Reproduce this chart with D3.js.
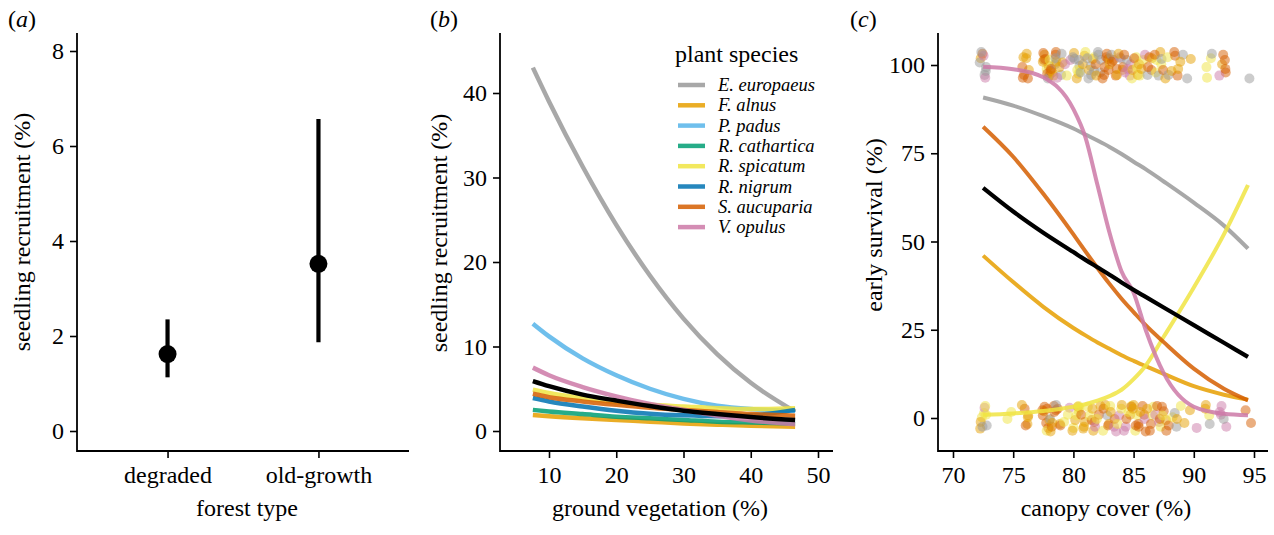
<!DOCTYPE html>
<html>
<head>
<meta charset="utf-8">
<script src="https://cdn.jsdelivr.net/npm/d3@7"></script>
<style>
  body { margin: 0; background: #fff; }
  svg text { font-family: "Liberation Serif", "DejaVu Serif", serif; fill: #000; }
</style>
</head>
<body>
<svg id="fig" width="1274" height="535"></svg>
<script>
// ---- (a) recruitment by forest type ----
const forestTypes = ["degraded", "old-growth"];
const recruitMean = [1.62, 3.52];
const recruitLow = [1.13, 1.87];
const recruitHigh = [2.35, 6.57];
const ticksA = [0, 2, 4, 6, 8];

// ---- (b) recruitment vs ground vegetation ----
const speciesNames = ["E. europaeus", "F. alnus", "P. padus", "R. cathartica",
  "R. spicatum", "R. nigrum", "S. aucuparia", "V. opulus"];
const speciesColors = ["#999999", "#E69F00", "#56B4E9", "#009E73",
  "#F0E442", "#0072B2", "#D55E00", "#CC79A7"];
const groundVeg = [7.6, 10, 15, 20, 25, 30, 35, 40, 46.6];
const recEuropaeus = [43, 39, 31.3, 24.4, 18.4, 13.3, 9.1, 5.7, 2.3];
const recAlnus = [1.9, 1.75, 1.5, 1.3, 1.1, 0.9, 0.75, 0.62, 0.5];
const recPadus = [12.7, 11.2, 8.6, 6.6, 5.0, 3.8, 3.0, 2.6, 2.4];
const recCathartica = [2.5, 2.3, 2.0, 1.7, 1.5, 1.3, 1.1, 1.0, 0.9];
const recSpicatum = [4.9, 4.5, 3.9, 3.4, 3.1, 2.9, 2.7, 2.6, 2.7];
const recNigrum = [3.9, 3.5, 2.9, 2.4, 2.05, 1.85, 1.75, 1.85, 2.5];
const recAucuparia = [4.4, 4.0, 3.5, 3.1, 2.75, 2.5, 2.25, 2.0, 1.8];
const recOpulus = [7.5, 6.6, 5.2, 4.1, 3.2, 2.5, 1.8, 1.25, 0.8];
const recAll = [5.9, 5.3, 4.3, 3.6, 2.95, 2.4, 2.0, 1.65, 1.3];
const ticksBx = [10, 20, 30, 40, 50];
const ticksBy = [0, 10, 20, 30, 40];

// ---- (c) early survival vs canopy cover ----
const canopy = [72.5, 75, 77.5, 80, 81, 82, 83, 84, 85, 86, 87.5, 90, 92.5, 94.5];
const survEuropaeus = [90.8, 88.5, 85.5, 82, 80.3, 78.6, 76.8, 74.8, 72.6, 70.5, 67, 61, 54.5, 48];
const survAlnus = [46, 38.5, 31.5, 25.5, 23.4, 21.4, 19.6, 17.8, 16.2, 14.7, 12.5, 9, 6.6, 5.2];
const survSpicatum = [0.9, 1.3, 2, 3.2, 3.9, 4.9, 6.2, 8, 11, 14.8, 23, 37, 52, 66];
const survAucuparia = [82.5, 74, 63.5, 52, 47.2, 42.5, 38, 33.8, 30, 26.3, 21.5, 14, 8.3, 5];
const survOpulus = [99.5, 98.8, 96.5, 87.5, 79.5, 66, 52.5, 41.5, 35.5, 25, 12.7, 3.2, 1.2, 0.8];
const survAll = [65.2, 58.5, 52.5, 47, 44.8, 42.7, 40.6, 38.4, 36.3, 34.3, 31.3, 26.3, 21.3, 17.3];
const ticksCx = [70, 75, 80, 85, 90, 95];
const ticksCy = [0, 25, 50, 75, 100];

// observed seedlings: plot canopy, species codes of survivors (top) and dead (bottom)
// g E. europaeus, f F. alnus, y R. spicatum, s S. aucuparia, v V. opulus
const plotCanopy = [72.5, 74.8, 76.0, 77.7, 78.3, 78.8, 79.5, 80.2, 80.7, 81.4, 82.0, 82.7,
  83.3, 83.9, 84.5, 85.1, 85.7, 86.4, 87.0, 87.6, 88.2, 88.8, 89.5, 90.2, 91.2, 92.4, 94.5];
const plotAlive = ["gfgsvgvgg", "", "sffsfsfs", "ssfyfssfsg", "ssfgyfssf", "ggfgvf", "vvy",
  "yfggfgy", "fyygfg", "gfgyfgg", "gggsgfg", "sssssfss", "fssgss", "vffgsf", "vvgvsv", "yyffsy",
  "fyyvf", "ssgfs", "fyyygs", "gfysg", "sfs", "sgff", "fg", "", "yygy", "sfsvss", "g"];
const plotDead = ["gyyfvfygy", "yy", "fsffsf", "sssffsyss", "ssgsfsf", "sfgs", "vyy", "yyfffy",
  "fyfsfy", "syfyf", "ssvfy", "ygsffs", "vysfv", "vvyyf", "fvysy", "syyfsfs", "sssvfs", "ysyfs",
  "vvyss", "sfssy", "syg", "gyf", "ff", "v", "yfgf", "vvvgv", "ss"];
const jitterY = [-2.8, 1.9, -0.6, 3.2, -3.6, 0.7, 2.6, -1.7, 3.7, -2.1, 0.2, 1.4, -3.0, 2.9,
  -1.1, 0.9, -2.5, 3.4, -0.3, 1.7, -3.8, 2.2, -1.4];
const jitterX = [0.12, -0.2, 0.25, -0.05, 0.18, -0.28, 0.04, 0.22, -0.15, 0.3, -0.1, 0.08, -0.24];
const codeColor = { g: "#999999", f: "#E69F00", y: "#F0E442", s: "#D55E00", v: "#CC79A7" };

const AXIS_Y = 451;
const TOP_Y = 33;
const FONT = 24;
const svg = d3.select("#fig");

// panel letter like (a) with the letter in italics
function panelLabel(x, letter) {
  const t = svg.append("text").attr("x", x).attr("y", 27).attr("font-size", FONT);
  t.append("tspan").text("(");
  t.append("tspan").attr("font-style", "italic").text(letter);
  t.append("tspan").text(")");
}

// classic axes: left + bottom lines, outward ticks
function drawAxes(xAxis, yScale, yTicks, xLeft, xRight) {
  const gx = svg.append("g")
    .attr("transform", `translate(0, ${AXIS_Y})`)
    .call(xAxis.tickSize(7).tickPadding(8).tickSizeOuter(0));
  const gy = svg.append("g")
    .attr("transform", `translate(${xLeft}, 0)`)
    .call(d3.axisLeft(yScale).tickValues(yTicks).tickSize(7).tickPadding(6).tickSizeOuter(0));
  [gx, gy].forEach(g => {
    g.attr("font-size", FONT).attr("font-family", null);
    g.select(".domain").remove();
    g.selectAll(".tick line").attr("stroke", "#000").attr("stroke-width", 1.6);
  });

  svg.append("line")
    .attr("x1", xLeft).attr("x2", xRight).attr("y1", AXIS_Y).attr("y2", AXIS_Y)
    .attr("stroke", "#000").attr("stroke-width", 1.8);
  svg.append("line")
    .attr("x1", xLeft).attr("x2", xLeft).attr("y1", TOP_Y).attr("y2", AXIS_Y + 0.9)
    .attr("stroke", "#000").attr("stroke-width", 1.8);
}

function xTitle(x, label) {
  svg.append("text").attr("x", x).attr("y", 516)
    .attr("text-anchor", "middle").attr("font-size", FONT).text(label);
}

function yTitle(x, y, label) {
  svg.append("text")
    .attr("transform", `translate(${x}, ${y}) rotate(-90)`)
    .attr("text-anchor", "middle").attr("font-size", FONT).text(label);
}

// ================= (a) =================
const xA = d3.scalePoint().domain(forestTypes).range([77, 409]).padding(0.6);
const yA = d3.scaleLinear().domain([0, 8]).range([431, 51]);
drawAxes(d3.axisBottom(xA), yA, ticksA, 77, 409);
panelLabel(8, "a");
xTitle(247, "forest type");
yTitle(30, 232, "seedling recruitment (%)");

svg.append("g").selectAll("line")
  .data(forestTypes)
  .join("line")
    .attr("x1", d => xA(d)).attr("x2", d => xA(d))
    .attr("y1", (d, i) => yA(recruitLow[i]))
    .attr("y2", (d, i) => yA(recruitHigh[i]))
    .attr("stroke", "#000").attr("stroke-width", 4.2);
svg.append("g").selectAll("circle")
  .data(forestTypes)
  .join("circle")
    .attr("cx", d => xA(d))
    .attr("cy", (d, i) => yA(recruitMean[i]))
    .attr("r", 9).attr("fill", "#000");

// ================= (b) =================
const xB = d3.scaleLinear().domain([10, 50]).range([549, 818]);
const yB = d3.scaleLinear().domain([0, 40]).range([431, 93]);
drawAxes(d3.axisBottom(xB).tickValues(ticksBx), yB, ticksBy, 500, 833);
panelLabel(430, "b");
xTitle(660, "ground vegetation (%)");
yTitle(447, 233, "seedling recruitment (%)");

const recSeries = [recEuropaeus, recAlnus, recPadus, recCathartica,
  recSpicatum, recNigrum, recAucuparia, recOpulus];
const lineB = d3.line()
  .x((d, i) => xB(groundVeg[i]))
  .y(d => yB(d))
  .curve(d3.curveMonotoneX);

svg.append("g").selectAll("path")
  .data(recSeries)
  .join("path")
    .attr("d", lineB)
    .attr("fill", "none")
    .attr("stroke", (d, i) => speciesColors[i])
    .attr("stroke-opacity", 0.85)
    .attr("stroke-width", 4.5);
svg.append("path")
  .attr("d", lineB(recAll))
  .attr("fill", "none").attr("stroke", "#000").attr("stroke-width", 4.5);

// legend
svg.append("text").attr("x", 675).attr("y", 62).attr("font-size", FONT).text("plant species");
const legend = svg.append("g").selectAll("g")
  .data(speciesNames)
  .join("g")
    .attr("transform", (d, i) => `translate(0, ${85 + i * 20.3})`);
legend.append("line")
  .attr("x1", 678).attr("x2", 705)
  .attr("stroke", (d, i) => speciesColors[i])
  .attr("stroke-opacity", 0.85)
  .attr("stroke-width", 4.5);
legend.append("text")
  .attr("x", 718).attr("y", 6)
  .attr("font-size", 18.5).attr("font-style", "italic")
  .text(d => d);

// ================= (c) =================
const xC = d3.scaleLinear().domain([70, 95]).range([953, 1254]);
const yC = d3.scaleLinear().domain([0, 100]).range([418, 65]);
drawAxes(d3.axisBottom(xC).tickValues(ticksCx), yC, ticksCy, 938, 1268);
panelLabel(850, "c");
xTitle(1106, "canopy cover (%)");
yTitle(882, 225, "early survival (%)");

// seedlings, jittered
const seedlings = [];
plotCanopy.forEach((cc, j) => {
  [[plotAlive[j], 100], [plotDead[j], 0]].forEach(([codes, surv]) => {
    codes.split("").forEach(code => {
      const k = seedlings.length;
      seedlings.push({
        canopy: cc + jitterX[k % jitterX.length],
        surv: surv + jitterY[k % jitterY.length],
        color: codeColor[code]
      });
    });
  });
});
svg.append("g").selectAll("circle")
  .data(seedlings)
  .join("circle")
    .attr("cx", d => xC(d.canopy))
    .attr("cy", d => yC(d.surv))
    .attr("r", 5)
    .attr("fill", d => d.color)
    .attr("fill-opacity", 0.5);

const survSeries = [
  { values: survEuropaeus, color: speciesColors[0] },
  { values: survAlnus, color: speciesColors[1] },
  { values: survSpicatum, color: speciesColors[4] },
  { values: survAucuparia, color: speciesColors[6] },
  { values: survOpulus, color: speciesColors[7] }
];
const lineC = d3.line()
  .x((d, i) => xC(canopy[i]))
  .y(d => yC(d))
  .curve(d3.curveMonotoneX);
svg.append("g").selectAll("path")
  .data(survSeries)
  .join("path")
    .attr("d", d => lineC(d.values))
    .attr("fill", "none")
    .attr("stroke", d => d.color)
    .attr("stroke-opacity", 0.85)
    .attr("stroke-width", 4);
svg.append("path")
  .attr("d", lineC(survAll))
  .attr("fill", "none").attr("stroke", "#000").attr("stroke-width", 4.2);
</script>
</body>
</html>
